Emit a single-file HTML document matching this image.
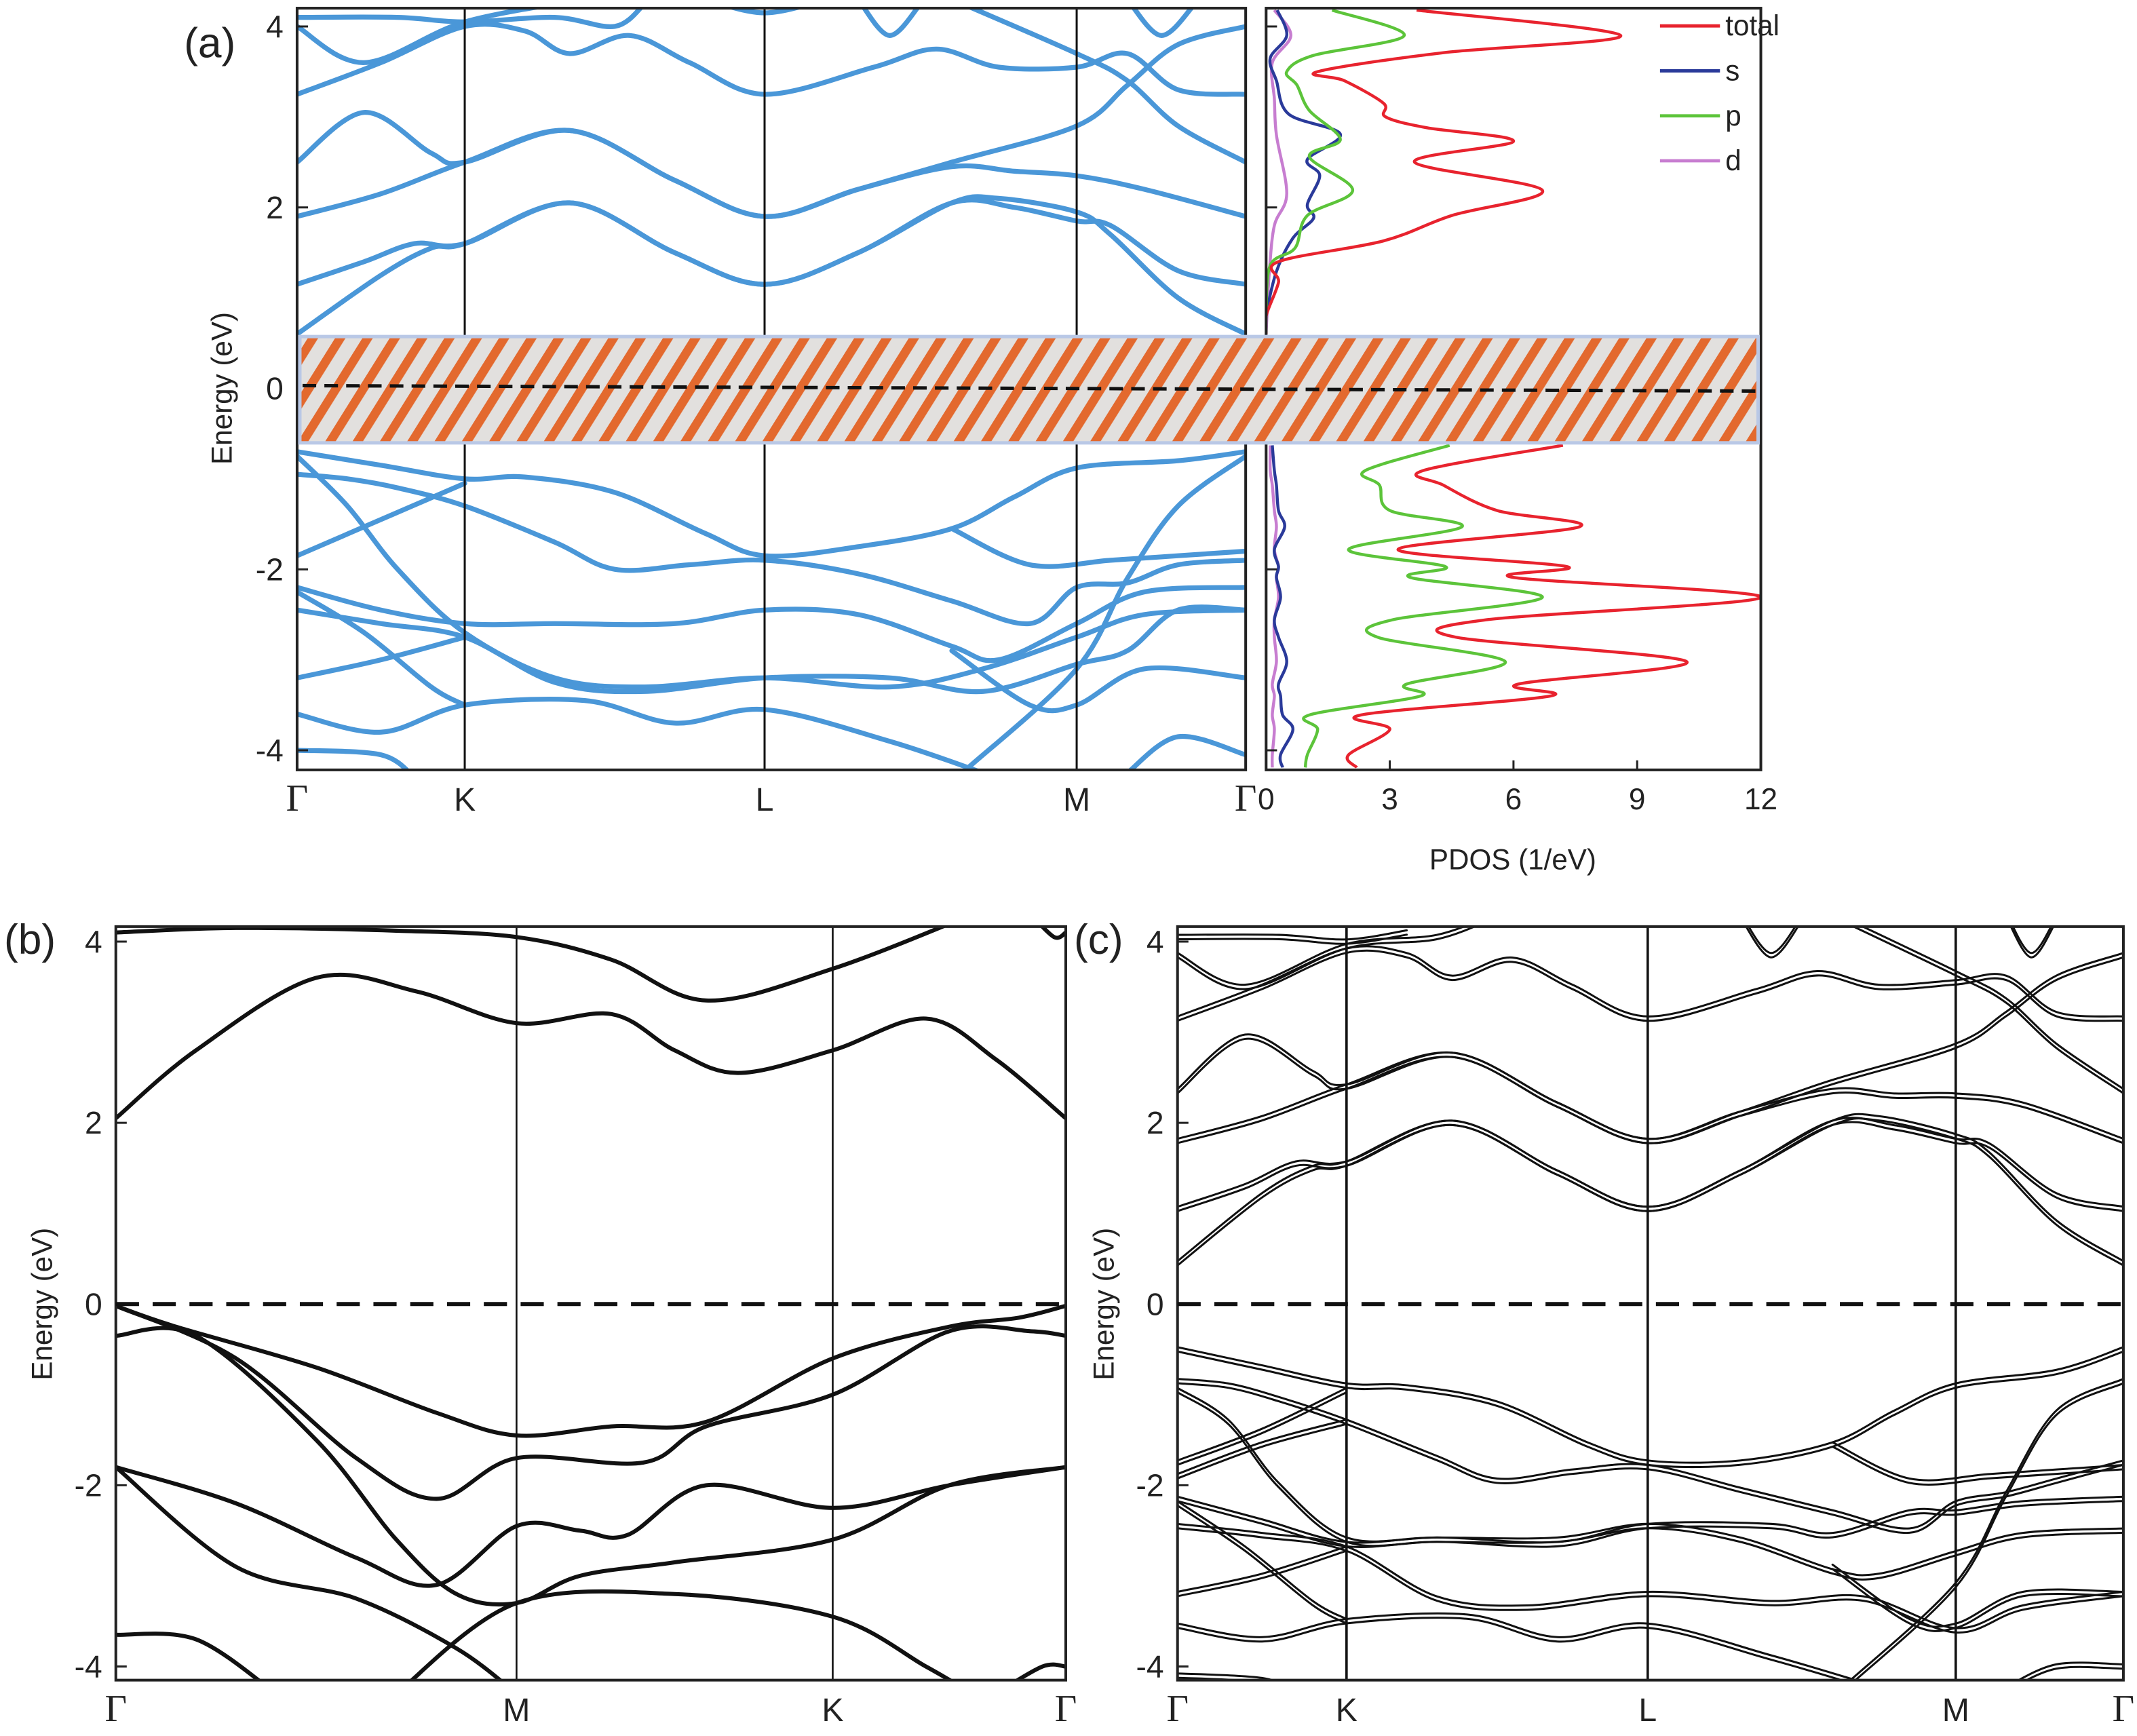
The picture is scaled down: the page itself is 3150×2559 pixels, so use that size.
<!DOCTYPE html>
<html><head><meta charset="utf-8"><style>
html,body{margin:0;padding:0;background:#fff}
svg{display:block}
text{font-family:"Liberation Sans","DejaVu Sans",sans-serif;fill:#222}
.g{font-family:"Liberation Serif",serif}
</style></head><body>
<svg id="fig" width="3150" height="2559" viewBox="0 0 1568 1274" preserveAspectRatio="none" xmlns="http://www.w3.org/2000/svg">
<defs>
<pattern id="hatch" patternUnits="userSpaceOnUse" width="17" height="17" patternTransform="rotate(32)">
<rect width="17" height="17" fill="#e2e0de"/><rect x="0" y="0" width="6.5" height="17" fill="#e3692e"/>
</pattern>
<clipPath id="clipA"><rect x="218" y="6" width="696" height="559"/></clipPath>
<clipPath id="clipP"><rect x="929" y="6" width="363" height="559"/></clipPath>
<clipPath id="clipB"><rect x="85" y="680" width="697" height="553"/></clipPath>
<clipPath id="clipC"><rect x="864" y="680" width="694" height="553"/></clipPath>
</defs>
<g id="root"></g>
</svg>
<script>
// ---------- Panel (a) band data: [k, E(eV)] with Γ=0,K=1,L=2,M=3,Γ=4 ----------
const bandsA = [
[[0,0.6],[0.5,1.25],[0.8,1.55],[1,1.6],[1.35,2.05],[1.7,1.5],[2,1.15],[2.3,1.5],[2.6,2.05],[2.8,2.0],[3,1.85],[3.2,1.8],[3.6,1.3],[4,1.15]],
[[0,1.15],[0.4,1.4],[0.7,1.6],[1,1.6],[1.35,2.05],[1.7,1.5],[2,1.15],[2.3,1.5],[2.6,2.05],[2.75,2.1],[3,1.95],[3.2,1.7],[3.6,1.0],[4,0.6]],
[[0,1.9],[0.5,2.15],[1,2.5],[1.35,2.85],[1.7,2.3],[2,1.9],[2.3,2.2],[2.6,2.5],[3,2.9],[3.3,3.35],[3.6,3.8],[4,4.0]],
[[0,2.5],[0.4,3.05],[0.8,2.6],[1,2.5],[1.35,2.85],[1.7,2.3],[2,1.9],[2.3,2.2],[2.6,2.45],[2.8,2.4],[3,2.35],[3.4,2.2],[4,1.9]],
[[0,3.25],[0.5,3.6],[1,4.0],[1.2,3.95],[1.35,3.7],[1.55,3.9],[1.75,3.6],[2,3.25],[2.35,3.55],[2.55,3.75],[2.75,3.55],[3,3.55],[3.3,3.7],[3.6,3.3],[4,3.25]],
[[0,4.0],[0.4,3.6],[1,4.05],[1.4,4.3]],
[[2.6,4.3],[3,3.7],[3.3,3.4],[3.6,2.9],[4,2.5]],
[[0,4.1],[0.6,4.1],[1,4.05],[1.3,4.1],[1.5,4.0],[1.6,4.25]],
[[2.3,4.3],[2.4,3.9],[2.5,4.25]],
[[3.3,4.3],[3.5,3.9],[3.7,4.25]],
[[1.8,4.3],[2,4.15],[2.2,4.3]],
[[0,-0.7],[0.5,-0.85],[1,-1.0],[1.2,-0.98],[1.5,-1.15],[1.8,-1.6],[2,-1.85],[2.3,-1.75],[2.6,-1.55],[2.8,-1.2],[3,-0.88],[3.6,-0.8],[4,-0.7]],
[[0,-0.95],[0.3,-1.0],[0.6,-1.1],[1,-1.3],[1.3,-1.7],[1.5,-2.0],[1.75,-1.95],[2,-1.9],[2.3,-2.05],[2.6,-2.35],[2.85,-2.6],[3,-2.2],[3.3,-2.15],[3.6,-1.95],[4,-1.9]],
[[0,-1.85],[0.5,-1.45],[1,-1.05]],
[[0,-0.75],[0.3,-1.3],[0.6,-2.0],[1,-2.7],[1.3,-3.2],[1.6,-3.3],[2,-3.2],[2.4,-3.3],[2.7,-3.1],[3,-2.75],[3.4,-2.5],[4,-2.45]],
[[0,-2.2],[0.5,-2.45],[1,-2.6],[1.3,-2.6],[1.7,-2.6],[2,-2.45],[2.3,-2.5],[2.6,-2.85],[2.75,-3.0],[3,-2.6],[3.4,-2.25],[4,-2.2]],
[[0,-2.45],[0.5,-2.6],[1,-2.75],[1.3,-3.25],[1.6,-3.35],[2,-3.2],[2.4,-3.2],[2.7,-3.35],[3,-3.05],[3.3,-2.9],[3.6,-2.45],[4,-2.45]],
[[0,-3.2],[0.5,-3.0],[1,-2.75]],
[[0,-3.6],[0.5,-3.8],[1,-3.5],[1.4,-3.45],[1.7,-3.7],[2,-3.55],[2.4,-3.9],[2.7,-4.25]],
[[0,-2.25],[0.4,-2.7],[0.8,-3.3],[1,-3.5]],
[[0,-4.0],[0.5,-4.05],[0.7,-4.3]],
[[2.65,-4.2],[3,-3.1],[3.3,-2.1],[3.6,-1.3],[4,-0.75]],
[[3.3,-4.25],[3.6,-3.85],[4,-4.05]],
[[2.6,-1.55],[2.85,-1.95],[3.2,-1.9],[3.6,-1.85],[4,-1.8]],
[[2.6,-2.9],[2.85,-3.5],[3,-3.5],[3.4,-3.1],[4,-3.2]]
];
const kTicksA = ["Γ","K","L","M","Γ"];
const eTicks = [4,2,0,-2,-4];

// ---------- PDOS data (a) ----------
const pdosE_up = [4.18,3.9,3.71,3.5,3.4,3.15,3.0,2.88,2.73,2.5,2.19,1.91,1.63,1.4,1.17,0.8,0.6];
const pdosTotal_up = [3.65,8.6,4.3,1.25,1.9,2.85,2.9,3.9,6.0,3.6,6.7,4.5,2.85,0.3,0.3,0,0];
const pdosE_p_up = [4.18,3.9,3.68,3.5,3.35,3.07,2.75,2.56,2.19,1.91,1.55,1.36,0.8,0.6];
const pdosP_up = [1.6,3.35,1.15,0.5,0.75,1.05,1.8,1.05,2.1,1.0,0.7,0.1,0,0];
const pdosE_s_up = [4.18,3.9,3.65,3.4,3.03,2.81,2.53,2.35,2.03,1.88,1.66,1.29,0.8,0.6];
const pdosS_up = [0.27,0.5,0.1,0.25,0.55,1.8,1.0,1.3,1.0,1.15,0.65,0.25,0,0];
const pdosE_d_up = [4.18,3.9,3.6,3.2,2.8,2.15,1.8,1.3,0.8,0.6];
const pdosD_up = [0.2,0.6,0.15,0.2,0.25,0.5,0.2,0.08,0.02,0];
const pdosE_dn = [-0.63,-0.91,-1.07,-1.35,-1.53,-1.78,-1.97,-2.09,-2.31,-2.56,-2.75,-3.02,-3.27,-3.4,-3.61,-3.77,-4.05,-4.19];
const pdosTotal_dn = [7.2,3.8,4.3,5.6,7.6,3.2,7.3,6.0,12,5.3,4.6,10.2,6.1,6.9,2.3,3.0,2.0,2.2];
const pdosP_dn = [4.45,2.4,2.75,3.0,4.75,2.0,4.35,3.5,6.7,3.05,2.7,5.8,3.4,3.75,1.05,1.25,1.0,0.95];
const pdosS_dn = [0.15,0.2,0.25,0.3,0.45,0.2,0.3,0.25,0.35,0.2,0.3,0.5,0.3,0.35,0.4,0.65,0.35,0.4];
const pdosD_dn = [0.1,0.1,0.15,0.2,0.25,0.2,0.3,0.25,0.3,0.2,0.2,0.25,0.15,0.2,0.15,0.2,0.15,0.15];
const pdosTicks = [0,3,6,9,12];

// ---------- Panel (b) band data: Γ=0,M=1,K=2,Γ=3 ----------
const bandsB = [
[[0,2.05],[0.2,2.8],[0.5,3.6],[0.75,3.45],[1,3.1],[1.3,3.2],[1.5,2.8],[1.7,2.55],[2,2.8],[2.4,3.15],[2.7,2.7],[3,2.05]],
[[0,4.1],[0.3,4.15],[0.7,4.12],[1,4.05],[1.3,3.8],[1.6,3.35],[2,3.7],[2.6,4.3]],
[[2.85,4.3],[2.95,4.05],[3,4.1]],
[[0,-0.02],[0.15,-0.25],[0.5,-0.7],[0.8,-1.2],[1,-1.45],[1.3,-1.35],[1.6,-1.3],[2,-0.6],[2.5,-0.25],[2.8,-0.15],[3,-0.02]],
[[0,-0.02],[0.3,-0.6],[0.6,-1.7],[0.8,-2.15],[1,-1.7],[1.4,-1.75],[1.6,-1.35],[2,-1.0],[2.5,-0.3],[2.85,-0.3],[3,-0.35]],
[[0,-0.35],[0.2,-0.35],[0.5,-1.5],[0.7,-2.6],[0.85,-3.2],[1,-3.3],[1.2,-3.0],[1.5,-2.85],[2,-2.6],[2.5,-2.0],[3,-1.8]],
[[0,-1.8],[0.3,-2.2],[0.6,-2.8],[0.8,-3.1],[1,-2.45],[1.2,-2.5],[1.35,-2.55],[1.6,-2.0],[2,-2.25],[2.5,-2.0],[3,-1.8]],
[[0,-1.8],[0.3,-2.9],[0.6,-3.25],[0.85,-3.8],[1,-4.3]],
[[0.7,-4.3],[1,-3.3],[1.5,-3.2],[2,-3.45],[2.4,-4.0],[2.6,-4.3]],
[[0,-3.65],[0.2,-3.7],[0.4,-4.3]],
[[2.7,-4.3],[2.9,-4.0],[3,-4.0]]
];
const kTicksB = ["Γ","M","K","Γ"];

// ---------- Panel (c) band data: Γ=0,K=1,L=2,M=3,Γ=4 ----------
const bandsC = [
[[0,0.45],[0.5,1.2],[0.8,1.5],[1,1.55],[1.35,2.0],[1.7,1.45],[2,1.05],[2.3,1.45],[2.6,2.0],[2.8,1.95],[3,1.8],[3.2,1.75],[3.6,1.2],[4,1.05]],
[[0,1.05],[0.4,1.3],[0.7,1.55],[1,1.55],[1.35,2.0],[1.7,1.45],[2,1.05],[2.3,1.45],[2.6,2.0],[2.75,2.05],[3,1.85],[3.2,1.65],[3.6,0.9],[4,0.45]],
[[0,1.8],[0.5,2.05],[1,2.4],[1.35,2.75],[1.7,2.2],[2,1.8],[2.3,2.1],[2.6,2.45],[3,2.85],[3.3,3.2],[3.6,3.6],[4,3.85]],
[[0,2.35],[0.4,2.95],[0.8,2.55],[1,2.4],[1.35,2.75],[1.7,2.2],[2,1.8],[2.3,2.1],[2.6,2.35],[2.8,2.3],[3,2.3],[3.4,2.2],[4,1.8]],
[[0,3.15],[0.5,3.5],[1,3.9],[1.2,3.85],[1.35,3.6],[1.55,3.8],[1.75,3.5],[2,3.15],[2.35,3.45],[2.55,3.65],[2.75,3.5],[3,3.55],[3.3,3.6],[3.6,3.2],[4,3.15]],
[[0,3.85],[0.4,3.5],[1,3.95],[1.3,4.05],[1.5,4.3]],
[[2.6,4.3],[3,3.65],[3.3,3.35],[3.6,2.85],[4,2.35]],
[[0,4.05],[0.6,4.05],[1,4.0],[1.2,4.1]],
[[2.3,4.3],[2.4,3.85],[2.5,4.25]],
[[3.3,4.3],[3.45,3.85],[3.6,4.25]],
[[0,-0.5],[0.5,-0.7],[1,-0.9],[1.2,-0.92],[1.5,-1.1],[1.8,-1.55],[2,-1.75],[2.3,-1.75],[2.6,-1.55],[2.8,-1.2],[3,-0.9],[3.6,-0.75],[4,-0.5]],
[[0,-0.85],[0.3,-0.9],[0.6,-1.05],[1,-1.3],[1.3,-1.7],[1.5,-1.95],[1.75,-1.85],[2,-1.8],[2.3,-2.05],[2.6,-2.3],[2.85,-2.5],[3,-2.2],[3.3,-2.1],[3.6,-1.95],[4,-1.75]],
[[0,-1.75],[0.5,-1.4],[1,-0.95]],
[[0,-0.95],[0.3,-1.3],[0.6,-2.0],[1,-2.6],[1.3,-2.6],[1.7,-2.6],[2,-2.45],[2.3,-2.6],[2.6,-2.95],[2.75,-3.0],[3,-2.75],[3.4,-2.55],[4,-2.5]],
[[0,-1.9],[0.5,-1.55],[1,-1.3]],
[[0,-2.15],[0.5,-2.4],[1,-2.65],[1.3,-2.6],[1.7,-2.65],[2,-2.45],[2.4,-2.45],[2.6,-2.55],[2.85,-2.3],[3,-2.3],[3.4,-2.2],[4,-2.15]],
[[0,-2.45],[0.5,-2.55],[1,-2.7],[1.3,-3.25],[1.6,-3.35],[2,-3.2],[2.4,-3.3],[2.7,-3.25],[3,-3.6],[3.4,-3.35],[4,-3.2]],
[[0,-3.2],[0.5,-3.0],[1,-2.7]],
[[0,-3.55],[0.5,-3.7],[1,-3.5],[1.4,-3.45],[1.7,-3.7],[2,-3.55],[2.4,-3.9],[2.7,-4.2]],
[[0,-2.2],[0.4,-2.7],[0.8,-3.3],[1,-3.5]],
[[0,-4.1],[0.5,-4.15],[0.7,-4.3]],
[[2.65,-4.2],[3,-3.1],[3.3,-2.1],[3.6,-1.2],[4,-0.85]],
[[3.3,-4.25],[3.6,-4.0],[4,-4.0]],
[[2.6,-1.55],[2.85,-1.95],[3.2,-1.9],[3.6,-1.85],[4,-1.8]],
[[2.6,-2.9],[2.85,-3.5],[3,-3.55],[3.4,-3.2],[4,-3.2]]
];
const kTicksC = ["Γ","K","L","M","Γ"];

// ---------- rendering ----------
const NS = "http://www.w3.org/2000/svg";
const root = document.getElementById('root');
function mk(tag, attrs, parent){
  const e = document.createElementNS(NS, tag);
  for (const k in attrs) e.setAttribute(k, attrs[k]);
  (parent||root).appendChild(e); return e;
}
function catmull(pts){
  if (pts.length < 2) return '';
  let d = 'M' + pts[0][0].toFixed(2) + ',' + pts[0][1].toFixed(2);
  for (let i=0;i<pts.length-1;i++){
    const p0 = pts[i-1]||pts[i], p1=pts[i], p2=pts[i+1], p3=pts[i+2]||pts[i+1];
    const c1=[p1[0]+(p2[0]-p0[0])/6, p1[1]+(p2[1]-p0[1])/6];
    const c2=[p2[0]-(p3[0]-p1[0])/6, p2[1]-(p3[1]-p1[1])/6];
    d += 'C'+c1[0].toFixed(2)+','+c1[1].toFixed(2)+' '+c2[0].toFixed(2)+','+c2[1].toFixed(2)+' '+p2[0].toFixed(2)+','+p2[1].toFixed(2);
  }
  return d;
}
function kScale(xs){ return k => { const i=Math.min(Math.floor(k), xs.length-2); return xs[i]+(k-i)*(xs[i+1]-xs[i]); }; }
function eScale(y0, ppe){ return e => y0 - e*ppe; }

function bandPanel(cfg){
  const g = mk('g', {'clip-path':'url(#'+cfg.clip+')'});
  
  
  cfg.xs.slice(1,-1).forEach((x,i)=>{
    const l = mk('line',{x1:x,x2:x,y1:cfg.top,y2:cfg.bot,stroke:'#111','stroke-width':cfg.vw});
    
    
  });
  const X = kScale(cfg.xs), Y = eScale(cfg.y0, cfg.ppe);
  cfg.bands.forEach((b,i)=>{
    const offs = cfg.doubled ? [-1.6,1.6] : [0];
    offs.forEach(o=>{
      const p = mk('path',{d:catmull(b.map(q=>[X(q[0]),Y(q[1])+o])),fill:'none',stroke:cfg.color,'stroke-width':cfg.lw,'stroke-linecap':'round'}, g);
      
      
    });
  });
  const f = mk('rect',{x:cfg.xs[0],y:cfg.top,width:cfg.xs[cfg.xs.length-1]-cfg.xs[0],height:cfg.bot-cfg.top,fill:'none',stroke:'#222','stroke-width':2});
  
  
  eTicks.forEach(e=>{
    const y = Y(e);
    const t = mk('line',{x1:cfg.xs[0],x2:cfg.xs[0]+8,y1:y,y2:y,stroke:'#222','stroke-width':1.5});
    
    
    const tx = mk('text',{x:cfg.xs[0]-10,y:y+8,'text-anchor':'end','font-size':23});
    tx.textContent = String(e);
    
    
  });
  cfg.kt.forEach((s,i)=>{
    const tx = mk('text',{x:cfg.xs[i],y:cfg.bot+30,'text-anchor':'middle','font-size':s==='Γ'?28:24,'class':s==='Γ'?'g':''});
    tx.textContent = s;
    
    
  });
  const yl = mk('text',{x:0,y:0,transform:'translate('+cfg.ylx+','+(cfg.y0)+') rotate(-90)','text-anchor':'middle','font-size':21});
  yl.textContent = 'Energy (eV)';
  
  
  const pl = mk('text',{x:cfg.plx,y:cfg.ply,'font-size':31});
  pl.textContent = cfg.label;
  
  
  return {X,Y};
}

const A = bandPanel({name:'panel-a',clip:'clipA',xs:[218,341,561,790,914],top:6,bot:565,y0:285,ppe:66.4,
  bands:bandsA,color:'#4a97d8',lw:3.6,vw:1.5,kt:kTicksA,ylx:170,plx:135,ply:42,label:'(a)'});

(function(){
  const g = mk('g',{'clip-path':'url(#clipP)'});
  
  
  const VX = v => 929 + v*(1292-929)/12, Y = eScale(285,66.4);
  const series = [
    ['pdos-d-up',pdosE_d_up,pdosD_up,'#c77dd0'],['pdos-s-up',pdosE_s_up,pdosS_up,'#2a3a9a'],
    ['pdos-p-up',pdosE_p_up,pdosP_up,'#5cc43a'],['pdos-total-up',pdosE_up,pdosTotal_up,'#e8232e'],
    ['pdos-d-down',pdosE_dn,pdosD_dn,'#c77dd0'],['pdos-s-down',pdosE_dn,pdosS_dn,'#2a3a9a'],
    ['pdos-p-down',pdosE_dn,pdosP_dn,'#5cc43a'],['pdos-total-down',pdosE_dn,pdosTotal_dn,'#e8232e']];
  series.forEach(s=>{
    const p = mk('path',{d:catmull(s[1].map((e,i)=>[VX(s[2][i]),Y(e)])),fill:'none',stroke:s[3],'stroke-width':2.2}, g);
    
    
  });
  const f = mk('rect',{x:929,y:6,width:363,height:559,fill:'none',stroke:'#222','stroke-width':2});
  
  
  eTicks.forEach(e=>{
    const t = mk('line',{x1:929,x2:937,y1:Y(e),y2:Y(e),stroke:'#222','stroke-width':1.5});
    
    
  });
  pdosTicks.forEach(v=>{
    const t = mk('line',{x1:VX(v),x2:VX(v),y1:565,y2:558,stroke:'#222','stroke-width':1.5});
    
    
    const tx = mk('text',{x:VX(v),y:594,'text-anchor':'middle','font-size':22});
    tx.textContent = v;
    
    
  });
  const xl = mk('text',{x:1110,y:638,'text-anchor':'middle','font-size':21});
  xl.textContent = 'PDOS (1/eV)';
  
  
  const leg = [['total','#e8232e'],['s','#2a3a9a'],['p','#5cc43a'],['d','#c77dd0']];
  leg.forEach((l,i)=>{
    const y = 19 + i*33;
    const ln = mk('line',{x1:1218,x2:1262,y1:y,y2:y,stroke:l[1],'stroke-width':2.4});
    
    
    const tx = mk('text',{x:1266,y:y+7,'font-size':21});
    tx.textContent = l[0];
    
    
  });
})();

const gap = mk('rect',{x:220,y:247,width:1070,height:78,fill:'url(#hatch)',stroke:'#b9c8e6','stroke-width':2.5});


const fa = mk('line',{x1:222,x2:1288,y1:283,y2:287,stroke:'#111','stroke-width':2.5,'stroke-dasharray':'10 6'});



const B = bandPanel({name:'panel-b',clip:'clipB',xs:[85,379,611,782],top:680,bot:1233,y0:957,ppe:66.5,
  bands:bandsB,color:'#111',lw:3,vw:1.3,kt:kTicksB,ylx:38,plx:3,ply:700,label:'(b)'});
const fb = mk('line',{x1:85,x2:782,y1:957,y2:957,stroke:'#111','stroke-width':3,'stroke-dasharray':'17 10'});



const C = bandPanel({name:'panel-c',clip:'clipC',xs:[864,988,1209,1435,1558],top:680,bot:1233,y0:957,ppe:66.5,
  bands:bandsC,color:'#111',lw:1.5,vw:1.8,kt:kTicksC,ylx:817,plx:788,ply:700,label:'(c)',doubled:true});
const fc = mk('line',{x1:864,x2:1558,y1:957,y2:957,stroke:'#111','stroke-width':3,'stroke-dasharray':'17 10'});


</script>
</body></html>
